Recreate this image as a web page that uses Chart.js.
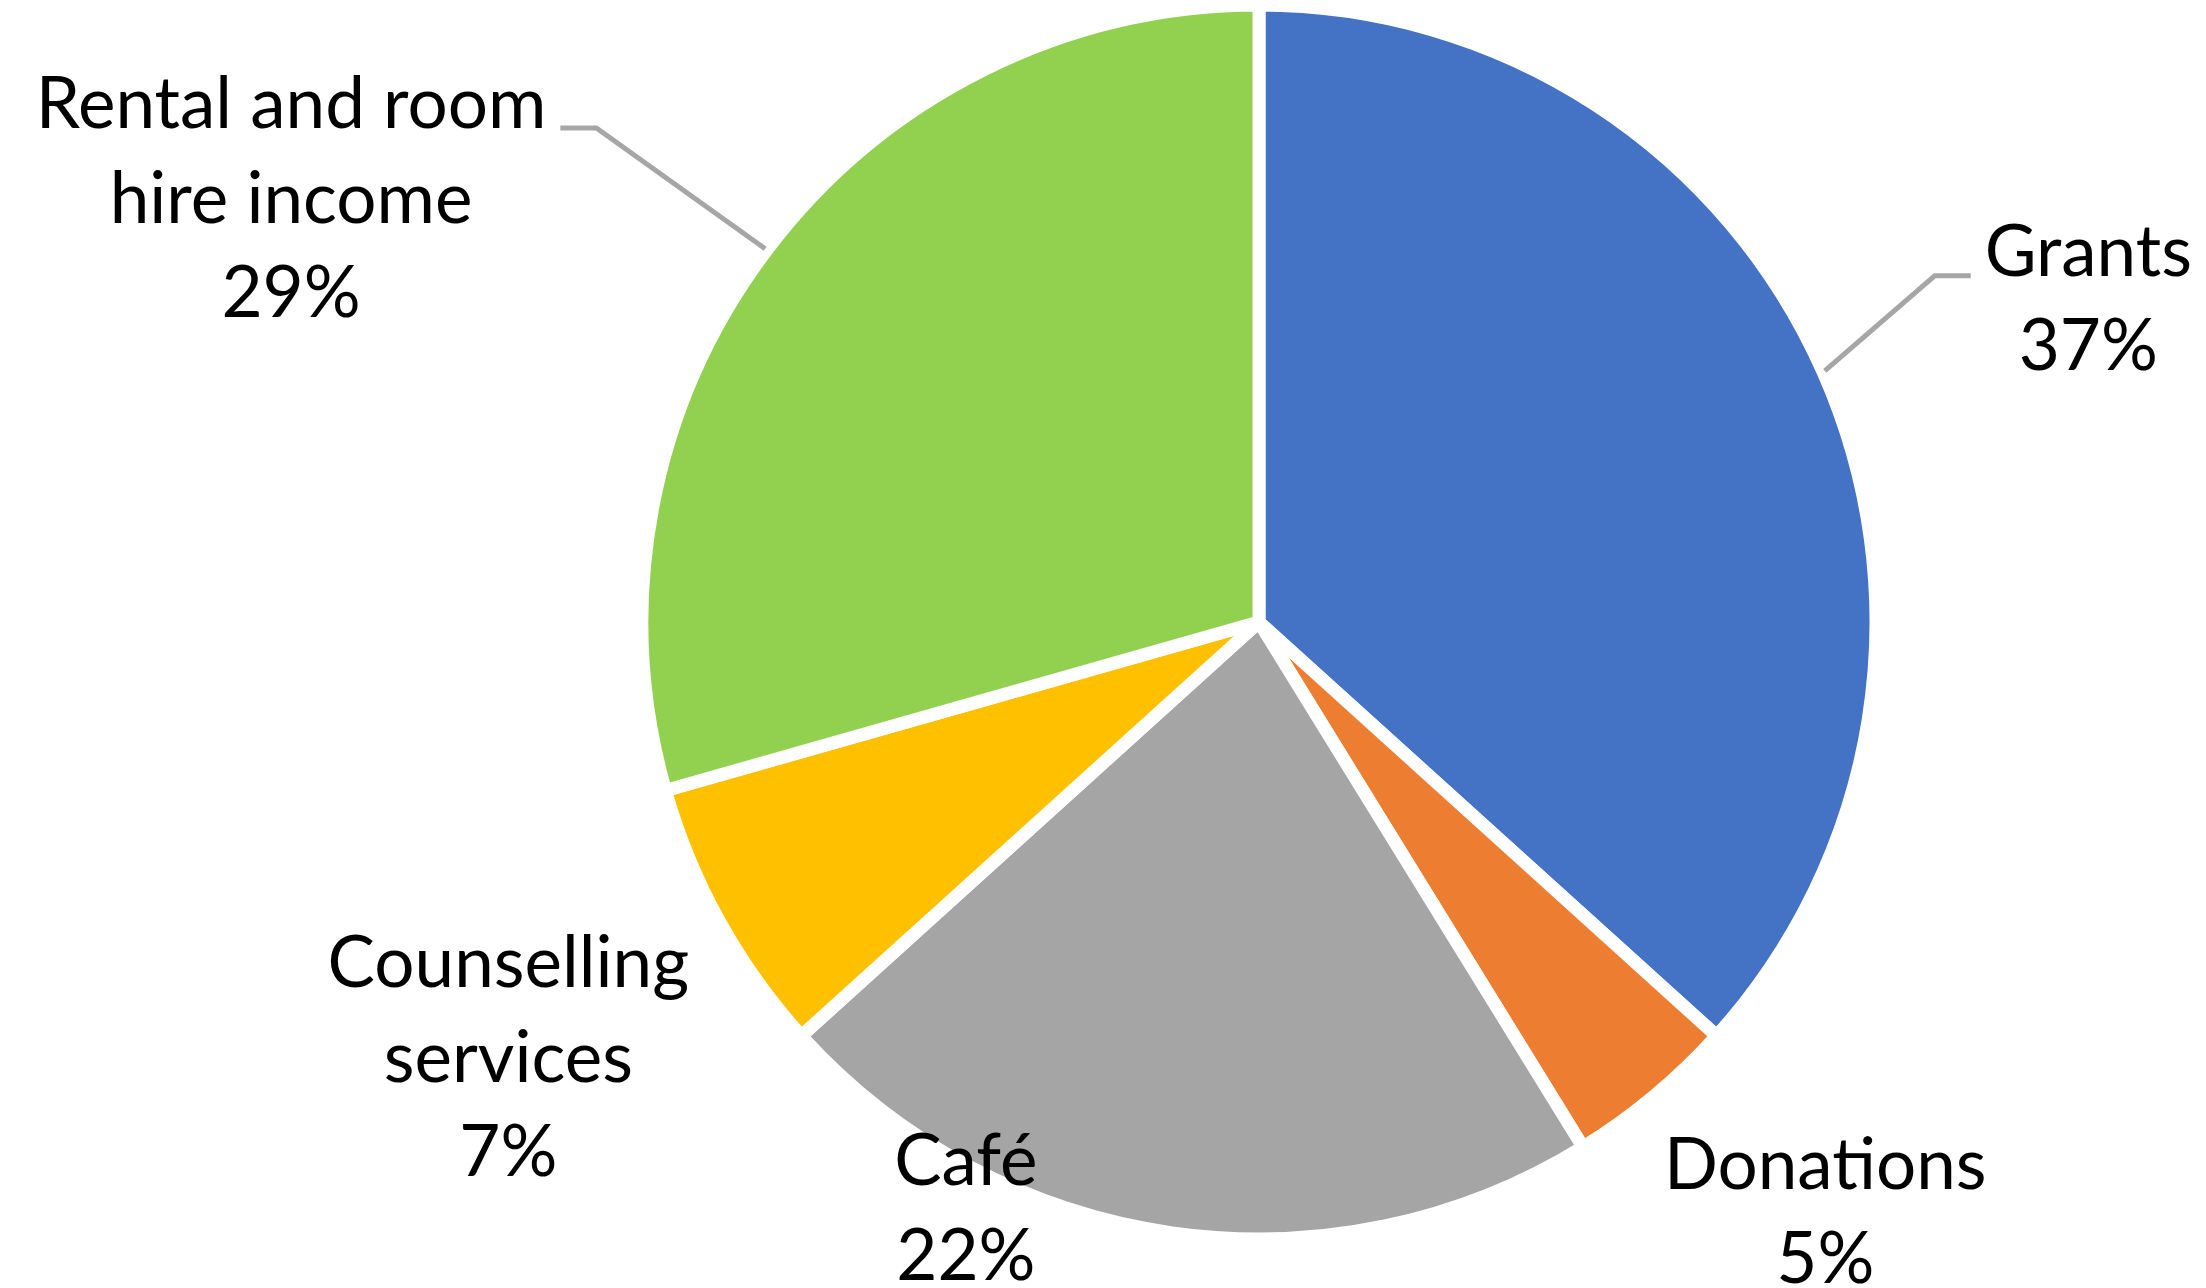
<!DOCTYPE html>
<html>
<head>
<meta charset="utf-8">
<script src="https://cdn.jsdelivr.net/npm/chart.js@4"></script>
<style>
  html, body { margin: 0; padding: 0; background: #fff; }
</style>
</head>
<body>
<canvas id="myChart" width="2206" height="1288"></canvas>
<script>
'use strict';

const categories = ['Grants', 'Donations', 'Café', 'Counselling services', 'Rental and room hire income'];
const shares = [36.7, 4.5, 22.1, 7.3, 29.4];
const labelLines = [['Grants'], ['Donations'], ['Café'], ['Counselling', 'services'], ['Rental and room', 'hire income']];
const sliceColors = ['#4472C4', '#ED7D31', '#A5A5A5', '#FFC000', '#92D050'];

// where each label sits, relative to its slice (radius factor, turn in degrees)
const labelRadius = [1.443, 1.324, 1.061, 1.406, 1.713];
const labelTurn = [2.6, -4.1, 18.5, -1.1, -13.4];
const hasLeader = [true, false, false, false, true];

const FONT = '71px Lato, "Liberation Sans", sans-serif';
const CAP = 50;
const LINE_H = 94.5;

const outsideLabels = {
  id: 'outsideLabels',
  afterDatasetsDraw(chart) {
    const ctx = chart.ctx;
    const meta = chart.getDatasetMeta(0);
    ctx.save();
    ctx.font = FONT;
    ctx.fillStyle = '#000';
    ctx.textAlign = 'center';
    ctx.textBaseline = 'alphabetic';
    meta.data.forEach((arc, i) => {
      const {x, y, startAngle, endAngle, outerRadius} =
        arc.getProps(['x', 'y', 'startAngle', 'endAngle', 'outerRadius'], true);
      const mid = (startAngle + endAngle) / 2;
      const a = mid + labelTurn[i] * Math.PI / 180;
      const d = outerRadius * labelRadius[i];
      const lx = x + Math.cos(a) * d;
      const ly = y + Math.sin(a) * d;
      const lines = [...labelLines[i], Math.round(shares[i]) + '%'];
      const top = ly - (CAP + (lines.length - 1) * LINE_H) / 2;
      lines.forEach((t, k) => ctx.fillText(t, lx, top + CAP + k * LINE_H));

      if (hasLeader[i]) {
        const sx = x + Math.cos(mid) * (outerRadius + 2);
        const sy = y + Math.sin(mid) * (outerRadius + 2);
        const w = ctx.measureText(lines[0]).width;
        const by = top + CAP;
        const side = Math.cos(mid) >= 0 ? -1 : 1;
        const ex = lx + side * (w / 2 + 14);
        const elx = ex + side * 36;
        ctx.beginPath();
        ctx.strokeStyle = '#A6A6A6';
        ctx.lineWidth = 5;
        ctx.moveTo(sx, sy);
        ctx.lineTo(elx, by);
        ctx.lineTo(ex, by);
        ctx.stroke();
      }
    });
    ctx.restore();
  }
};

const data = {
  labels: categories,
  datasets: [{
    data: shares,
    backgroundColor: sliceColors,
    borderColor: '#FFFFFF',
    borderWidth: 13
  }]
};

const config = {
  type: 'pie',
  data: data,
  options: {
    responsive: false,
    animation: false,
    devicePixelRatio: 1,
    radius: 617,
    layout: { padding: { left: 312, right: 0, top: 0, bottom: 44 } },
    plugins: {
      legend: { display: false },
      tooltip: { enabled: false }
    }
  },
  plugins: [outsideLabels]
};

const myChart = new Chart(document.getElementById('myChart'), config);
</script>
</body>
</html>
